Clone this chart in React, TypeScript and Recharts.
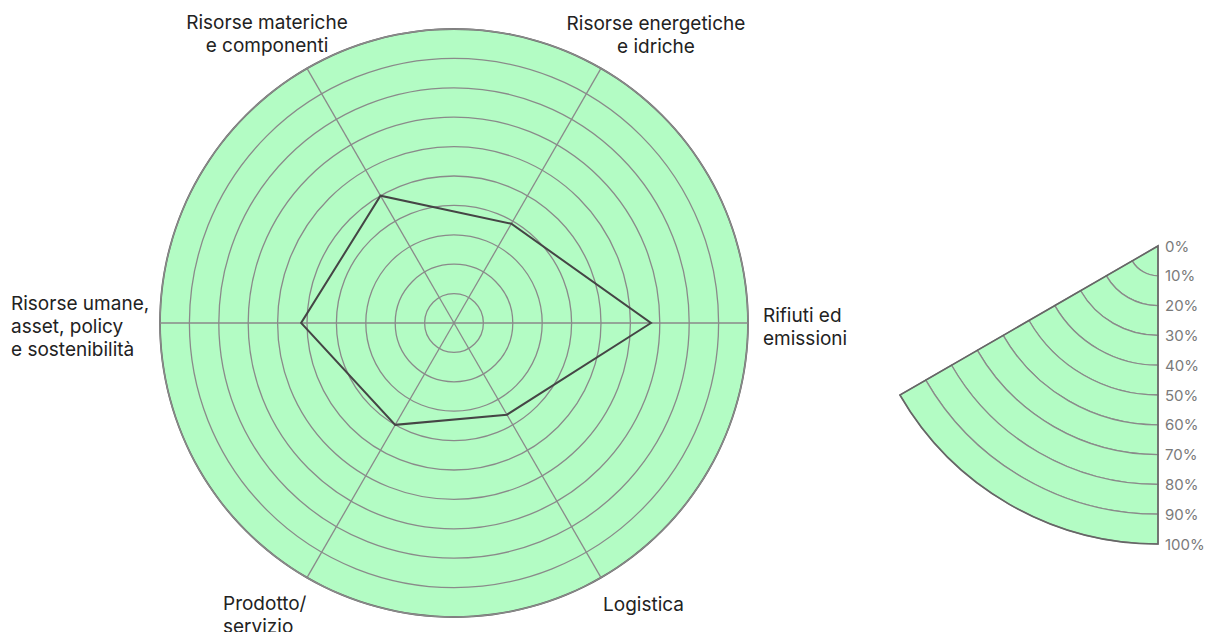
import React from 'react';
import {
  PieChart,
  Pie,
  RadarChart,
  Radar,
  PolarGrid,
  PolarAngleAxis,
  PolarRadiusAxis,
} from 'recharts';

// areas, clockwise starting from the right
const AREAS = [
  'Rifiuti ed\nemissioni',
  'Logistica',
  'Prodotto/\nservizio',
  'Risorse umane,\nasset, policy\ne sostenibilità',
  'Risorse materiche\ne componenti',
  'Risorse energetiche\ne idriche',
];
const SCORES = [67, 36, 40, 52, 50, 39];
const SCALE_TICKS = [0, 10, 20, 30, 40, 50, 60, 70, 80, 90, 100];

const W = 1209;
const H = 632;
const GREEN = '#b3fcc4';
const GRID = '#8a8a8a';
const OUTLINE = '#666666';

const MAIN = { cx: 454, cy: 323, r: 294 };
const KEY = { cx: 1158, cy: 246, r: 298 };

// where each area label sits relative to its tick point
const LABEL_LAYOUT = [
  { dx: 7, dy: -8, anchor: 'start' },
  { dx: -2, dy: 20, anchor: 'start' },
  { dx: -80, dy: 18.5, anchor: 'start' },
  { dx: -141, dy: -20, anchor: 'start' },
  { dx: -36, dy: -38.5, anchor: 'middle' },
  { dx: 51, dy: -38, anchor: 'middle' },
];
const LINE_H = 23;

const data = AREAS.map((area, i) => ({ area, score: SCORES[i] }));
const keyRings = SCALE_TICKS.slice(1).map((t, i) => ({
  inner: (SCALE_TICKS[i] / 100) * KEY.r,
  outer: (t / 100) * KEY.r,
}));
const one = [{ v: 1 }];

function AreaTick(props: any) {
  const { x, y, payload, index } = props;
  const lay = LABEL_LAYOUT[index] || LABEL_LAYOUT[0];
  const lines = String(payload.value).split('\n');
  return (
    <text
      textAnchor={lay.anchor}
      fill="#222"
      fontSize={19}
      fontFamily="Inter, sans-serif"
    >
      {lines.map((ln, i) => (
        <tspan
          key={i}
          x={x + lay.dx}
          y={y + lay.dy + i * LINE_H}
          dominantBaseline="central"
        >
          {ln}
        </tspan>
      ))}
    </text>
  );
}

function ScaleTick(props: any) {
  const { x, y, payload } = props;
  return (
    <text
      x={x + 7}
      y={y}
      textAnchor="start"
      dominantBaseline="central"
      fill="#7a7a7a"
      fontSize={15}
      fontFamily="Inter, sans-serif"
    >
      {`${payload.value}%`}
    </text>
  );
}

const layer: React.CSSProperties = { position: 'absolute', left: 0, top: 0 };

export default function App() {
  return (
    <div
      style={{
        position: 'absolute',
        left: 0,
        top: 0,
        width: W,
        height: H,
        background: '#fff',
        overflow: 'hidden',
      }}
    >
      <div style={layer}>
        <PieChart width={W} height={H} margin={{ top: 0, right: 0, bottom: 0, left: 0 }}>
          {/* main disc */}
          <Pie
            data={one}
            dataKey="v"
            cx={MAIN.cx}
            cy={MAIN.cy}
            innerRadius={0}
            outerRadius={MAIN.r}
            startAngle={0}
            endAngle={360}
            fill={GREEN}
            stroke="none"
            isAnimationActive={false}
          />
          <Pie
            data={one}
            dataKey="v"
            cx={MAIN.cx}
            cy={MAIN.cy}
            innerRadius={MAIN.r - 0.9}
            outerRadius={MAIN.r + 0.9}
            startAngle={0}
            endAngle={360}
            fill={OUTLINE}
            stroke="none"
            isAnimationActive={false}
          />
          {/* scale key wedge */}
          {keyRings.map((rg, i) => (
            <Pie
              key={i}
              data={one}
              dataKey="v"
              cx={KEY.cx}
              cy={KEY.cy}
              innerRadius={rg.inner}
              outerRadius={rg.outer}
              startAngle={210}
              endAngle={270}
              fill={GREEN}
              stroke={GRID}
              strokeWidth={1.3}
              isAnimationActive={false}
            />
          ))}
          <Pie
            data={one}
            dataKey="v"
            cx={KEY.cx}
            cy={KEY.cy}
            innerRadius={0}
            outerRadius={KEY.r}
            startAngle={210}
            endAngle={270}
            fill="none"
            stroke={OUTLINE}
            strokeWidth={1.6}
            isAnimationActive={false}
          />
        </PieChart>
      </div>

      <div style={layer}>
        <RadarChart
          width={W}
          height={H}
          data={data}
          cx={MAIN.cx}
          cy={MAIN.cy}
          outerRadius={MAIN.r}
          startAngle={0}
          endAngle={-360}
          margin={{ top: 0, right: 0, bottom: 0, left: 0 }}
        >
          <PolarGrid gridType="circle" stroke={GRID} strokeWidth={1.3} />
          <PolarAngleAxis
            dataKey="area"
            tick={AreaTick}
            tickLine={false}
            axisLine={false}
          />
          <PolarRadiusAxis
            domain={[0, 100]}
            ticks={SCALE_TICKS}
            tick={false}
            axisLine={false}
            tickLine={false}
          />
          <Radar
            dataKey="score"
            stroke="#454545"
            strokeWidth={2}
            fill="none"
            fillOpacity={0}
            dot={false}
            isAnimationActive={false}
          />
        </RadarChart>
      </div>

      <div style={layer}>
        <RadarChart
          width={W}
          height={H}
          data={data}
          cx={KEY.cx}
          cy={KEY.cy}
          outerRadius={KEY.r}
          margin={{ top: 0, right: 0, bottom: 0, left: 0 }}
        >
          <PolarRadiusAxis
            angle={270}
            domain={[0, 100]}
            ticks={SCALE_TICKS}
            tick={ScaleTick}
            axisLine={false}
            tickLine={false}
          />
          <Radar
            dataKey="score"
            stroke="none"
            fill="none"
            dot={false}
            isAnimationActive={false}
          />
        </RadarChart>
      </div>
    </div>
  );
}
